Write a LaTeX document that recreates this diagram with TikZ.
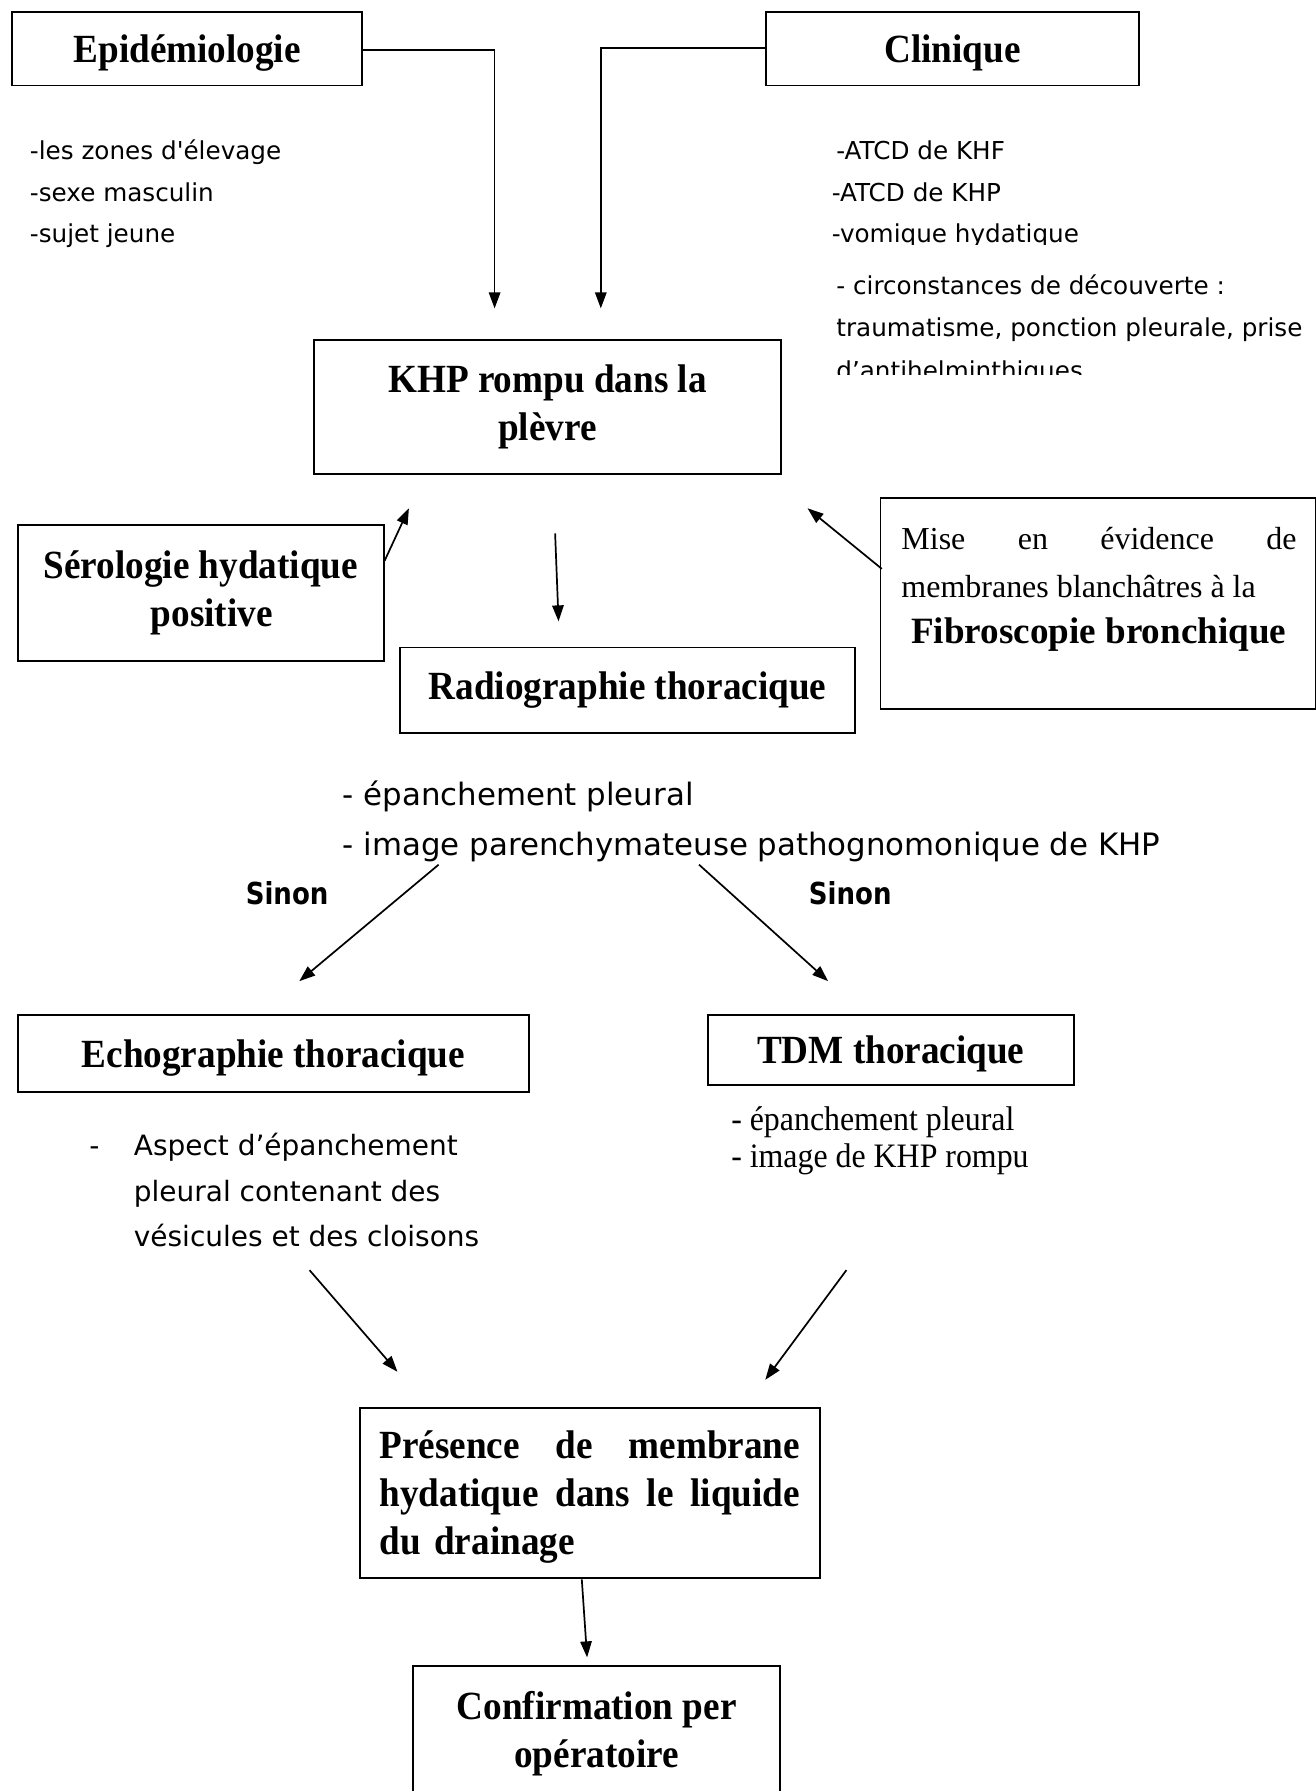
\documentclass[tikz,border=0pt]{standalone}
\usepackage{fontspec}
\setmainfont{Liberation Serif}
\newfontfamily\condserif{Liberation Serif}[FakeStretch=0.93]
\newfontfamily\sansf{DejaVu Sans}[Ligatures=TeXOff]
\newfontfamily\sanscond{DejaVu Sans}[FakeStretch=0.86]
\usetikzlibrary{arrows.meta,calc}
\tikzset{
  box/.style={draw, line width=1.7pt, inner sep=0pt, anchor=north west},
  hd/.style={font=\condserif\bfseries\fontsize{35}{42}\selectfont, align=center},
  onel/.style={text height=24pt, text depth=0pt},
  arr/.style={line width=1.5pt, -{Triangle[length=14pt,width=10pt]}},
  lst/.style={anchor=base west, inner sep=0pt},
  ssmall/.style={lst, font=\sansf\fontsize{21.6}{26}\selectfont},
  smid/.style={lst, font=\sansf\fontsize{24.5}{30}\selectfont},
  sbig/.style={lst, font=\sansf\fontsize{27}{32}\selectfont},
  sinon/.style={lst, font=\sanscond\bfseries\fontsize{26.5}{30}\selectfont},
  tdmtxt/.style={lst, font=\condserif\fontsize{30}{32}\selectfont},
  fibtxt/.style={lst, font=\fontsize{28}{34}\selectfont},
}
\begin{document}
\begin{tikzpicture}[x=1pt,y=-1pt]
\useasboundingbox (0,0) rectangle (1152,1568);
\clip (0,0) rectangle (1152,1568);

% top boxes
\node[box, hd, onel, minimum width=306pt, minimum height=64pt] (epi) at (10,10) {Epidémiologie};
\node[box, hd, onel, minimum width=326pt, minimum height=64pt] (clin) at (670,10) {Clinique};

% epidemiology list
\node[ssmall] (e1) at (26,140) {-les zones d'élevage};
\node[ssmall] (e2) at (26,176) {-sexe masculin};
\node[ssmall] (e3) at (26,212) {-sujet jeune};

% clinical lists (clipped text boxes)
\begin{scope}
  \clip (700,100) rectangle (1152,214);
  \node[ssmall] (c1) at (732,140) {-ATCD de KHF};
  \node[ssmall] (c2) at (728,176) {-ATCD de KHP};
  \node[ssmall] (c3) at (728,212) {-vomique hydatique};
\end{scope}
\begin{scope}
  \clip (700,226) rectangle (1152,328);
  \node[ssmall] (c4) at (732,258) {- circonstances de découverte :};
  \node[ssmall] (c5) at (732,295) {traumatisme, ponction pleurale, prise};
  \node[ssmall] (c6) at (732,332) {d’antihelminthiques};
\end{scope}

% KHP box
\node[box, hd, minimum width=409pt, minimum height=117pt] (khp) at (274,297) {KHP rompu dans la\\plèvre};

% serologie
\node[box, hd, minimum width=320pt, minimum height=119pt] (sero) at (15,459) {Sérologie hydatique\\\hspace*{19pt}positive};

% radiographie
\node[box, hd, minimum width=399pt, minimum height=75pt] (radio) at (349,566) {Radiographie thoracique};

% fibroscopie
\node[box, minimum width=381pt, minimum height=185pt] (fib) at (770,435) {};
\node[fibtxt] (f1) at (789,481) {\hbox to 346pt{Mise\hfill en\hfill évidence\hfill de}};
\node[fibtxt] (f2) at (789,523) {membranes blanchâtres à la};
\node[anchor=base, inner sep=0pt, font=\bfseries\fontsize{32.5}{38}\selectfont] (f3) at (962,563) {Fibroscopie bronchique};

% radiographie findings
\node[sbig] (r1) at (300,705) {- épanchement pleural};
\node[sbig] (r2) at (300,749) {- image parenchymateuse pathognomonique de KHP};
\node[sinon] (s1) at (215,792) {Sinon};
\node[sinon] (s2) at (708,792) {Sinon};

% echo / tdm
\node[box, hd, onel, minimum width=447pt, minimum height=67pt] (echo) at (15,888) {Echographie thoracique};
\node[box, hd, onel, minimum width=320pt, minimum height=61pt] (tdm) at (619,888) {TDM thoracique};

\node[smid] (ed) at (78,1012) {-};
\node[smid] (ea1) at (117,1012) {Aspect d’épanchement};
\node[smid] (ea2) at (117,1052) {pleural contenant des};
\node[smid] (ea3) at (117,1091) {vésicules et des cloisons};

\node[tdmtxt] (t1) at (640,990) {- épanchement pleural};
\node[tdmtxt] (t2) at (640,1022) {- image de KHP rompu};

% presence
\node[box, minimum width=403pt, minimum height=149pt] (pres) at (314,1232) {};
\node[font=\condserif\bfseries\fontsize{35}{42}\selectfont, inner sep=0pt, text width=368pt, align=left, yshift=-3pt] (prestext) at (pres.center)
  {\leavevmode\hbox to 368pt{Présence\hfill de\hfill membrane}\\\leavevmode\hbox to 368pt{hydatique\hfill dans\hfill le\hfill liquide}\\du drainage};

% confirmation
\node[box, hd, minimum width=321pt, minimum height=118pt] (conf) at (361,1458) {Confirmation per\\opératoire};

% connectors
\coordinate (epiend) at (433,270);
\coordinate (clinend) at (526,270);
\draw[arr] ($(epi.north east)+(0,34)$) -| (epiend);
\draw[arr] ($(clin.north west)+(0,32)$) -| (clinend);

\coordinate (seroend) at (358,445);
\draw[arr] ($(sero.north east)+(0,32)$) -- (seroend);

\coordinate (kstart) at (486,467);
\coordinate (kend) at (489,544);
\draw[arr] (kstart) -- (kend);

\coordinate (fibend) at (707,445);
\draw[arr] ($(fib.north west)+(2,63)$) -- (fibend);

\coordinate (lstart) at (384,757);
\coordinate (lend) at (262,859);
\coordinate (rstart) at (612,757);
\coordinate (rend) at (725,859);
\draw[arr] (lstart) -- (lend);
\draw[arr] (rstart) -- (rend);

\coordinate (eostart) at (271,1112);
\coordinate (eoend) at (348,1201);
\coordinate (tostart) at (741,1112);
\coordinate (toend) at (670,1208);
\draw[arr] (eostart) -- (eoend);
\draw[arr] (tostart) -- (toend);

\coordinate (confend) at (514,1451);
\draw[arr] ($(pres.south)+(-7,0)$) -- (confend);
\end{tikzpicture}
\end{document}
